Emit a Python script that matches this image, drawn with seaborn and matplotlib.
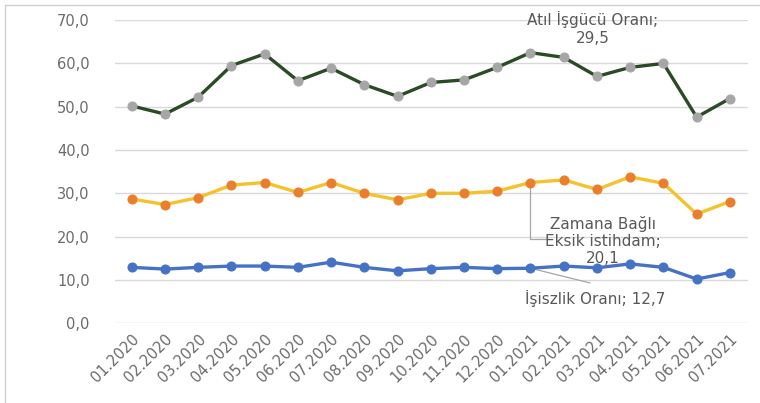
import numpy as np
import pandas as pd
import matplotlib
matplotlib.use("Agg")
import matplotlib.pyplot as plt
from matplotlib.lines import Line2D
from matplotlib.ticker import FuncFormatter
import seaborn as sns

# -----------------------------
# Data
# -----------------------------
months = ["01.2020", "02.2020", "03.2020", "04.2020", "05.2020", "06.2020",
          "07.2020", "08.2020", "09.2020", "10.2020", "11.2020", "12.2020",
          "01.2021", "02.2021", "03.2021", "04.2021", "05.2021", "06.2021",
          "07.2021"]
atil_isgucu = [50.2, 48.3, 52.2, 59.5, 62.2, 56.0, 58.9, 55.1, 52.4, 55.6,
               56.2, 59.1, 62.5, 61.4, 57.0, 59.1, 60.0, 47.6, 51.9]
zamana_bagli = [28.7, 27.4, 29.0, 31.9, 32.5, 30.2, 32.5, 30.0, 28.5, 30.0,
                30.0, 30.5, 32.5, 33.1, 30.9, 33.8, 32.3, 25.2, 28.1]
issizlik = [12.9, 12.5, 12.9, 13.2, 13.2, 12.9, 14.1, 12.9, 12.1, 12.6,
            12.9, 12.6, 12.7, 13.2, 12.8, 13.7, 12.9, 10.2, 11.7]

df = pd.DataFrame({
    "idx": np.arange(len(months)),
    "atil": atil_isgucu,
    "zaman": zamana_bagli,
    "issiz": issizlik,
})

sns.set_style("white")
plt.rcParams["font.family"] = ["DejaVu Sans"]

fig = plt.figure(figsize=(7.6, 4.03), dpi=100)
ax = fig.add_axes([0.151, 0.198, 0.833, 0.752])

text_gray = "#595959"
tick_gray = "#6b6b6b"
grid_gray = "#d9d9d9"

# Atıl işgücü (dark green line, gray markers)
sns.lineplot(data=df, x="idx", y="atil", ax=ax, color="#2b4a26", linewidth=2.4,
             marker="o", markersize=6.5, markerfacecolor="#a6a6a6",
             markeredgecolor="#a6a6a6", zorder=3)
# Zamana bağlı eksik istihdam (yellow line, orange markers)
sns.lineplot(data=df, x="idx", y="zaman", ax=ax, color="#f6c22b", linewidth=2.4,
             marker="o", markersize=6.5, markerfacecolor="#ea7e2b",
             markeredgecolor="#ea7e2b", zorder=3)
# İşsizlik (blue)
sns.lineplot(data=df, x="idx", y="issiz", ax=ax, color="#4472c4", linewidth=2.4,
             marker="o", markersize=6.5, markerfacecolor="#4472c4",
             markeredgecolor="#4472c4", zorder=3)

ax.set_ylim(0, 70)
ax.set_yticks(np.arange(0, 71, 10))
ax.yaxis.set_major_formatter(FuncFormatter(lambda v, p: f"{v:.1f}".replace(".", ",")))
ax.set_xlim(-0.51, len(months) - 1 + 0.54)
ax.set_xticks(df["idx"])
ax.set_xticklabels(months, rotation=45, ha="right", rotation_mode="anchor")
ax.tick_params(axis="both", length=0, labelcolor=tick_gray)
ax.tick_params(axis="y", pad=18, labelsize=10.5)
ax.tick_params(axis="x", pad=6, labelsize=10.5)
ax.set_xlabel("")
ax.set_ylabel("")
ax.grid(axis="y", color=grid_gray, linewidth=1)
for s in ax.spines.values():
    s.set_visible(False)

# Data labels with leader lines
ax.text(13.88, 68.1, "Atıl İşgücü Oranı;\n29,5", ha="center", va="center",
        fontsize=11, color=text_gray, linespacing=1.2, zorder=4)

ax.plot([12, 12, 12.55], [32.5, 19.45, 19.45], color="#a6a6a6", linewidth=0.9, zorder=2)
ax.text(14.17, 19.0, "Zamana Bağlı\nEksik istihdam;\n20,1", ha="center", va="center",
        fontsize=11, color=text_gray, linespacing=1.15, zorder=2)

ax.plot([12, 13.79], [12.7, 9.3], color="#a6a6a6", linewidth=0.9, zorder=2)
ax.text(13.94, 5.8, "İşiszlik Oranı; 12,7", ha="center", va="center",
        fontsize=11, color=text_gray, zorder=4)

# light frame from the screenshot (top and left edges)
fig.add_artist(Line2D([5 / 760, 1.0], [1 - 5 / 403, 1 - 5 / 403],
                      transform=fig.transFigure, color="#d0d0d0", linewidth=1))
fig.add_artist(Line2D([5 / 760, 5 / 760], [0.0, 1 - 5 / 403],
                      transform=fig.transFigure, color="#d0d0d0", linewidth=1))

plt.savefig("out.png", dpi=100)
plt.close()
